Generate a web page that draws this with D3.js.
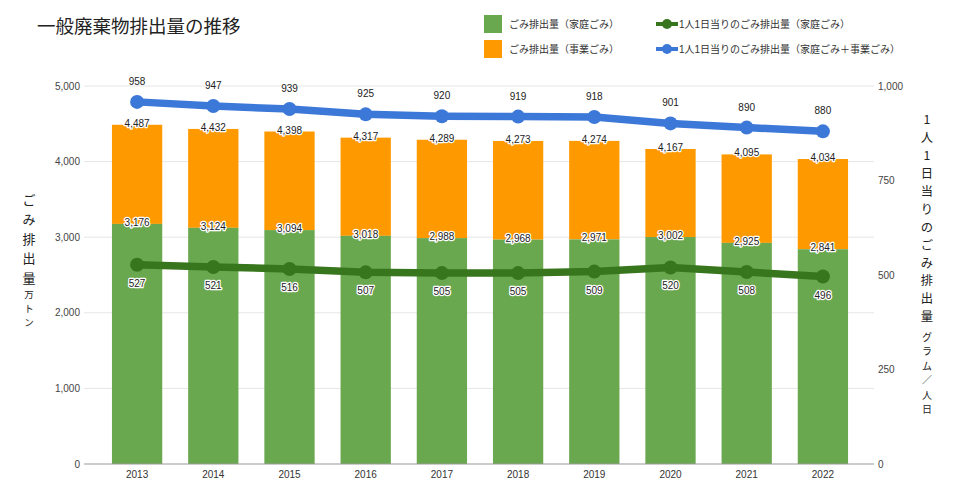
<!DOCTYPE html>
<html>
  <head>
    <meta charset="utf-8">
    <script src="https://d3js.org/d3.v7.min.js"></script>
    <title>一般廃棄物排出量の推移</title>
    <style>
      body { margin: 0; background: #fff; }
      text { font-family: "Liberation Sans", "Noto Sans CJK JP", sans-serif; }
      .jp { font-family: "Noto Sans CJK JP", sans-serif; }
    </style>
  </head>
  <body>
    <div id="chart"></div>
  </body>
  <script>

    // DATA

    const years = ['2013','2014','2015','2016','2017','2018','2019','2020','2021','2022'];
    const household = [3176, 3124, 3094, 3018, 2988, 2968, 2971, 3002, 2925, 2841];
    const total = [4487, 4432, 4398, 4317, 4289, 4273, 4274, 4167, 4095, 4034];
    const perCapHousehold = [527, 521, 516, 507, 505, 505, 509, 520, 508, 496];
    const perCapTotal = [958, 947, 939, 925, 920, 919, 918, 901, 890, 880];
    const leftTicks = [0, 1000, 2000, 3000, 4000, 5000];
    const rightTicks = [0, 250, 500, 750, 1000];

    // CONSTANTS

    const w = 960, h = 494;
    const plot = {top: 86, bottom: 464, left: 84, right: 874};
    const green = '#6aa84f', orange = '#ff9900', dkgreen = '#38761d', blue = '#3c78d8';

    var svg = d3.select('#chart').append('svg')
	.attr('width', w)
	.attr('height', h);

    var x = d3.scaleBand()
	.domain(years)
	.range([99, 861])
	.paddingInner(0.34)
	.paddingOuter(0.17);

    var yL = d3.scaleLinear().domain([0, 5000]).range([plot.bottom, plot.top]);
    var yR = d3.scaleLinear().domain([0, 1000]).range([plot.bottom, plot.top]);
    var cx = (d, i) => x(years[i]) + x.bandwidth() / 2;

    // grid
    svg.append('g').selectAll('line')
	.data(leftTicks.slice(1))
	.enter().append('line')
	.attr('x1', plot.left).attr('x2', plot.right)
	.attr('y1', d => yL(d)).attr('y2', d => yL(d))
	.attr('stroke', '#e6e6e6');

    // left axis labels
    svg.append('g').selectAll('text')
	.data(leftTicks)
	.enter().append('text')
	.attr('x', 80)
	.attr('y', d => yL(d))
	.attr('dy', '0.35em')
	.attr('text-anchor', 'end')
	.attr('font-size', 10)
	.attr('fill', '#444')
	.text(d => d3.format(',')(d));

    // right axis labels
    svg.append('g').selectAll('text')
	.data(rightTicks)
	.enter().append('text')
	.attr('x', 878)
	.attr('y', d => yR(d))
	.attr('dy', '0.35em')
	.attr('font-size', 10)
	.attr('fill', '#444')
	.text(d => d3.format(',')(d));

    // bars
    var bars = svg.append('g');
    bars.selectAll('rect.biz')
	.data(years)
	.enter().append('rect')
	.attr('x', d => x(d))
	.attr('width', x.bandwidth())
	.attr('y', (d, i) => yL(total[i]))
	.attr('height', (d, i) => yL(household[i]) - yL(total[i]))
	.attr('fill', orange);
    bars.selectAll('rect.home')
	.data(years)
	.enter().append('rect')
	.attr('x', d => x(d))
	.attr('width', x.bandwidth())
	.attr('y', (d, i) => yL(household[i]))
	.attr('height', (d, i) => yL(0) - yL(household[i]))
	.attr('fill', green);

    // baseline
    svg.append('line')
	.attr('x1', plot.left).attr('x2', plot.right)
	.attr('y1', yL(0)).attr('y2', yL(0))
	.attr('stroke', '#999');

    // year labels
    svg.append('g').selectAll('text')
	.data(years)
	.enter().append('text')
	.attr('x', cx)
	.attr('y', 478)
	.attr('text-anchor', 'middle')
	.attr('font-size', 10)
	.attr('fill', '#333')
	.text(d => d);

    // lines
    function drawLine(vals, color) {
	var line = d3.line().x(cx).y(d => yR(d));
	svg.append('path')
	    .datum(vals)
	    .attr('d', line)
	    .attr('fill', 'none')
	    .attr('stroke', color)
	    .attr('stroke-width', 7.5)
	    .attr('stroke-linejoin', 'round');
	svg.append('g').selectAll('circle')
	    .data(vals)
	    .enter().append('circle')
	    .attr('cx', cx)
	    .attr('cy', d => yR(d))
	    .attr('r', 7)
	    .attr('fill', color);
    }
    drawLine(perCapHousehold, dkgreen);
    drawLine(perCapTotal, blue);

    // data labels with halo
    function halo(sel) {
	sel.attr('text-anchor', 'middle')
	    .attr('font-size', 10)
	    .attr('fill', '#222')
	    .attr('stroke', '#fff')
	    .attr('stroke-width', 2.5)
	    .attr('paint-order', 'stroke')
	    .attr('stroke-linejoin', 'round');
    }
    svg.append('g').selectAll('text')
	.data(total)
	.enter().append('text')
	.attr('x', cx)
	.attr('y', d => yL(d) + 2)
	.call(halo)
	.text(d => d3.format(',')(d));
    svg.append('g').selectAll('text')
	.data(household)
	.enter().append('text')
	.attr('x', cx)
	.attr('y', d => yL(d) + 2)
	.call(halo)
	.text(d => d3.format(',')(d));
    svg.append('g').selectAll('text')
	.data(perCapHousehold)
	.enter().append('text')
	.attr('x', cx)
	.attr('y', d => yR(d) + 22)
	.call(halo)
	.text(d => d);
    svg.append('g').selectAll('text')
	.data(perCapTotal)
	.enter().append('text')
	.attr('x', cx)
	.attr('y', d => yR(d) - 17)
	.attr('text-anchor', 'middle')
	.attr('font-size', 10)
	.attr('fill', '#222')
	.text(d => d);

    // title
    svg.append('text')
	.attr('class', 'jp')
	.attr('x', 37)
	.attr('y', 33)
	.attr('font-size', 18.5)
	.attr('fill', '#222')
	.text('一般廃棄物排出量の推移');

    // legend
    var legend = svg.append('g').attr('class', 'jp').attr('font-size', 10).attr('fill', '#333');
    [['ごみ排出量（家庭ごみ）', green], ['ごみ排出量（事業ごみ）', orange]].forEach(function(d, i) {
	legend.append('rect')
	    .attr('x', 484).attr('y', 15 + i * 25)
	    .attr('width', 18).attr('height', 18)
	    .attr('fill', d[1]);
	legend.append('text')
	    .attr('x', 509).attr('y', 24 + i * 25)
	    .attr('dy', '0.35em')
	    .text(d[0]);
    });
    [['1人1日当りのごみ排出量（家庭ごみ）', dkgreen], ['1人1日当りのごみ排出量（家庭ごみ＋事業ごみ）', blue]].forEach(function(d, i) {
	legend.append('line')
	    .attr('x1', 656).attr('x2', 678)
	    .attr('y1', 24 + i * 25).attr('y2', 24 + i * 25)
	    .attr('stroke', d[1]).attr('stroke-width', 4);
	legend.append('circle')
	    .attr('cx', 667).attr('cy', 24 + i * 25)
	    .attr('r', 5).attr('fill', d[1]);
	legend.append('text')
	    .attr('x', 679).attr('y', 24 + i * 25)
	    .attr('dy', '0.35em')
	    .text(d[0]);
    });

    // vertical axis titles, one character per row
    function vtext(px, y0, chars, size, step) {
	svg.append('g').selectAll('text')
	    .data(Array.from(chars))
	    .enter().append('text')
	    .attr('class', 'jp')
	    .attr('x', px)
	    .attr('y', (d, i) => y0 + i * step)
	    .attr('dy', '0.35em')
	    .attr('text-anchor', 'middle')
	    .attr('font-size', size)
	    .attr('fill', '#222')
	    .text(d => d);
    }
    vtext(29, 200, 'ごみ排出量', 13, 19.5);
    vtext(29, 295, '万トン', 9.5, 14);
    vtext(927, 120, '1人1日当りのごみ排出量', 12.3, 17.9);
    vtext(927, 337, 'グラム／人日', 10, 14.5);

  </script>
</html>
